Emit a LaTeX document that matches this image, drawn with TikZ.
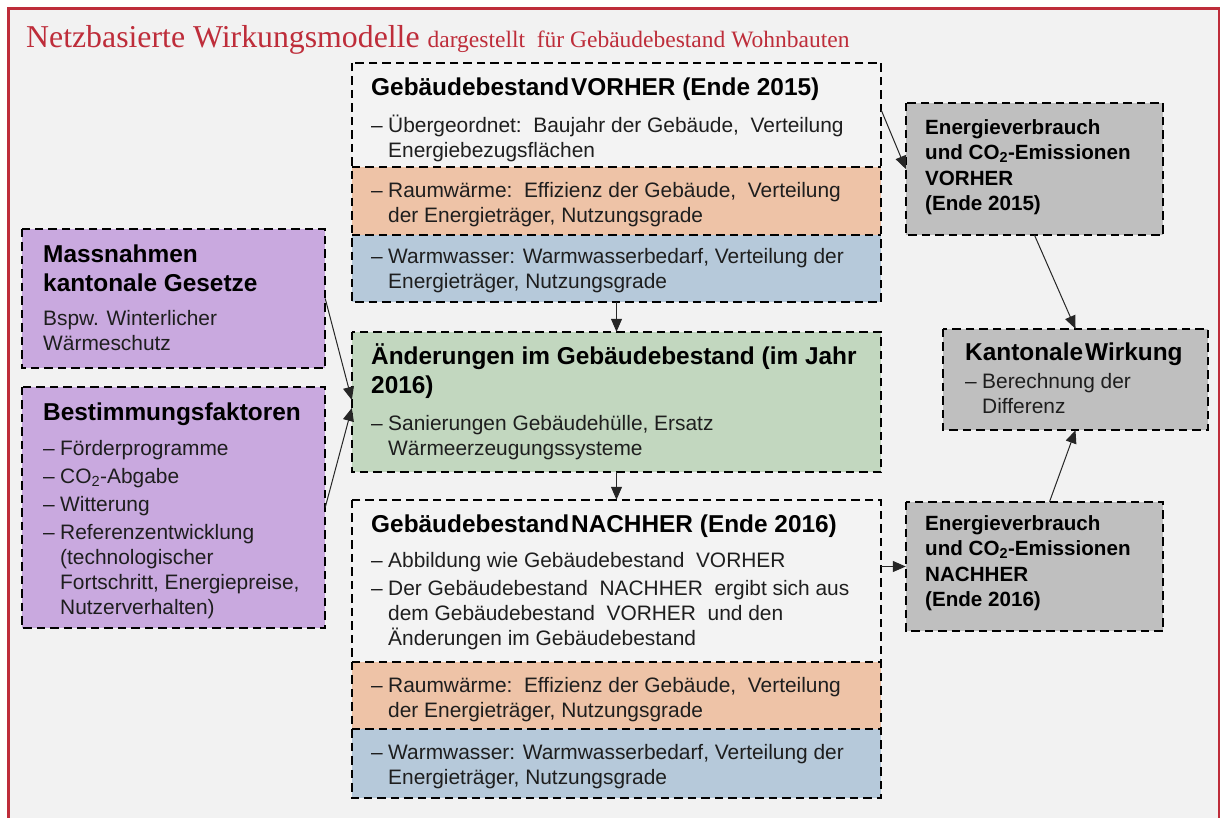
\documentclass[tikz,border=0pt]{standalone}
\usepackage{fontspec}
\setmainfont{Liberation Sans}
\newfontfamily\titleserif{Liberation Serif}
\usetikzlibrary{arrows.meta,calc,fit}

\definecolor{pagebg}{HTML}{F2F2F2}
\definecolor{framered}{HTML}{BE2D3A}
\definecolor{paleband}{HTML}{F3F3F3}
\definecolor{heatband}{HTML}{EEC3A7}
\definecolor{waterband}{HTML}{B6C9DA}
\definecolor{changeband}{HTML}{C2D7BF}
\definecolor{driverband}{HTML}{C9A9DF}
\definecolor{resultband}{HTML}{BFBFBF}
\definecolor{ink}{HTML}{1E1E1E}

\newcommand\dashitem{\makebox[17pt][l]{–}}
\newcommand\hangin{\hspace*{17pt}}

\tikzset{
  x=1pt, y=-1pt,
  panel/.style={fit={#1}, inner sep=0pt, draw=none},
  dashline/.style={draw=black, line width=2.4pt, dash pattern=on 8.5pt off 5pt},
  body/.style={anchor=north west, inner sep=0pt, align=left, text=ink,
    font=\fontsize{20.9}{25}\selectfont},
  head/.style={anchor=north west, inner sep=0pt, align=left, text=black,
    font=\fontsize{24.4}{29}\selectfont\bfseries},
  resulttext/.style={anchor=north west, inner sep=0pt, align=left, text=black,
    font=\fontsize{20.6}{25.5}\selectfont\bfseries},
  conn/.style={draw=black!85, line width=1pt, -{Triangle[length=13pt,width=11pt]}},
}

\begin{document}
\begin{tikzpicture}
\useasboundingbox (0,0) rectangle (1222,818);
\fill[white] (0,0) rectangle (1222,818);
\fill[pagebg] (8.5,8.5) rectangle (1219,818);
\draw[framered, line width=2.5pt] (8.5,818) -- (8.5,8.5) -- (1219,8.5) -- (1219,818);

% heading line
\node[anchor=base west, inner sep=0pt, text=framered, font=\titleserif] (title) at (26,48)
  {{\fontsize{31.8}{36}\selectfont Netzbasierte Wirkungsmodelle}\hspace{8pt}{\fontsize{23.5}{27}\selectfont dargestellt\ \ für\ Gebäudebestand\ Wohnbauten}};

% building stock before
\node[panel={(352,63)(881,167)}, fill=paleband] (vT) {};
\node[panel={(352,167)(881,235)}, fill=heatband] (vR) {};
\node[panel={(352,235)(881,302)}, fill=waterband] (vW) {};
\draw[dashline] (vT.north west) rectangle (vW.south east);
\draw[dashline] (vT.south west) -- (vT.south east);
\draw[dashline] (vR.south west) -- (vR.south east);
\node[head] (vTh) at (371,74.7) {\strut Gebäudebestand\hspace{2pt}VORHER (Ende 2015)};
\node[body] (vTb) at (371,114.5) {\strut\dashitem Übergeordnet:\ \ Baujahr der Gebäude,\ \ Verteilung\\\hangin Energiebezugsflächen};
\node[body] (vRb) at (371,179.5) {\strut\dashitem Raumwärme:\ \ Effizienz der Gebäude,\ \ Verteilung\\\hangin der Energieträger, Nutzungsgrade};
\node[body] (vWb) at (371,245.5) {\strut\dashitem Warmwasser: Warmwasserbedarf, Verteilung der\\\hangin Energieträger, Nutzungsgrade};

% changes in the year
\node[panel={(352,332)(881,472)}, fill=changeband] (chg) {};
\draw[dashline] (chg.north west) rectangle (chg.south east);
\node[head] (chgh) at (371,343.7) {\strut Änderungen im Gebäudebestand (im Jahr\\2016)};
\node[body] (chgb) at (371,412.5) {\strut\dashitem Sanierungen Gebäudehülle, Ersatz\\\hangin Wärmeerzeugungssysteme};

% building stock after
\node[panel={(352,500)(881,662)}, fill=paleband] (nT) {};
\node[panel={(352,662)(881,729)}, fill=heatband] (nR) {};
\node[panel={(352,729)(881,798)}, fill=waterband] (nW) {};
\draw[dashline] (nT.north west) rectangle (nW.south east);
\draw[dashline] (nT.south west) -- (nT.south east);
\draw[dashline] (nR.south west) -- (nR.south east);
\node[head] (nTh) at (371,511.7) {\strut Gebäudebestand\hspace{2pt}NACHHER (Ende 2016)};
\node[body] (nTb) at (371,549.5) {\strut\dashitem Abbildung wie Gebäudebestand\ \ VORHER\\[3pt]
  \dashitem Der Gebäudebestand\ \ NACHHER\ \ ergibt sich aus\\
  \hangin dem Gebäudebestand\ \ VORHER\ \ und den\\
  \hangin Änderungen im Gebäudebestand};
\node[body] (nRb) at (371,674.5) {\strut\dashitem Raumwärme:\ \ Effizienz der Gebäude,\ \ Verteilung\\\hangin der Energieträger, Nutzungsgrade};
\node[body] (nWb) at (371,741.5) {\strut\dashitem Warmwasser: Warmwasserbedarf, Verteilung der\\\hangin Energieträger, Nutzungsgrade};

% measures and drivers
\node[panel={(22,229)(325,368)}, fill=driverband] (mass) {};
\draw[dashline] (mass.north west) rectangle (mass.south east);
\node[head] (massh) at (43,241.7) {\strut Massnahmen\\kantonale Gesetze};
\node[body] (massb) at (43,307.5) {\strut Bspw. Winterlicher\\Wärmeschutz};

\node[panel={(22,387)(325,628)}, fill=driverband] (best) {};
\draw[dashline] (best.north west) rectangle (best.south east);
\node[head] (besth) at (43,399.7) {\strut Bestimmungsfaktoren};
\node[body] (bestb) at (43,437.5) {\strut\dashitem Förderprogramme\\[3pt]
  \dashitem CO\textsubscript{2}-Abgabe\\[3pt]
  \dashitem Witterung\\[3pt]
  \dashitem Referenzentwicklung\\
  \hangin (technologischer\\
  \hangin Fortschritt, Energiepreise,\\
  \hangin Nutzerverhalten)};

% energy results and cantonal effect
\node[panel={(906,103)(1163,235)}, fill=resultband] (eV) {};
\draw[dashline] (eV.north west) rectangle (eV.south east);
\node[resulttext] (eVt) at (925,116.15) {\strut Energieverbrauch\\und CO\textsubscript{2}-Emissionen\\VORHER\\(Ende 2015)};

\node[panel={(943,329)(1208,430)}, fill=resultband] (kw) {};
\draw[dashline] (kw.north west) rectangle (kw.south east);
\node[head] (kwh) at (965,339.7) {\strut Kantonale\hspace{2pt}Wirkung};
\node[body] (kwb) at (965,370.5) {\strut\dashitem Berechnung der\\\hangin Differenz};

\node[panel={(906,502)(1163,631)}, fill=resultband] (eN) {};
\draw[dashline] (eN.north west) rectangle (eN.south east);
\node[resulttext] (eNt) at (925,512.15) {\strut Energieverbrauch\\und CO\textsubscript{2}-Emissionen\\NACHHER\\(Ende 2016)};

% connectors
\draw[conn] ([yshift=5pt]vT.east) -- (eV.west);
\draw[conn] (vW.south) -- (chg.north);
\draw[conn] (chg.south) -- (nT.north);
\draw[conn] (mass.east) -- ([yshift=2pt]chg.west);
\draw[conn] (best.east) -- ([yshift=-6pt]chg.west);
\draw[conn] (eV.south) -- (kw.north);
\draw[conn] ([xshift=15pt]eN.north) -- (kw.south);
\draw[conn] (eN.west -| nT.east) -- (eN.west);
\end{tikzpicture}
\end{document}
